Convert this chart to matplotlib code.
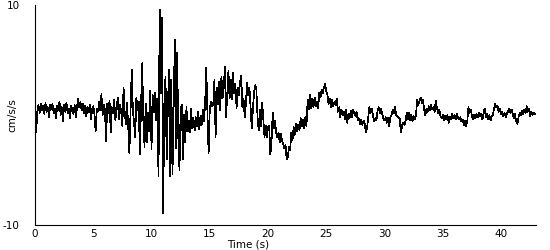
import numpy as np
import matplotlib
matplotlib.use("Agg")
import matplotlib.pyplot as plt

plt.rcParams['font.family'] = 'DejaVu Sans'
plt.rcParams['axes.unicode_minus'] = False

# sample interval (s)
dt = 0.1

# acceleration (cm/s/s), one row per second
accel = [
    0.2, -1.6, 0.3, 0.9, 0.2, 1.0, 0.4, 0.8, 0.1, 1.1,
    0.3, 0.7, -0.2, 0.9, 0.5, 1.0, 0.2, 0.6, -0.3, 0.8,
    0.4, 1.2, 0.0, 0.7, -0.6, 0.9, 0.3, 1.1, 0.2, 0.6,
    -0.3, 0.8, 0.5, 0.1, 0.9, -0.2, 0.6, 1.5, 0.7, 1.2,
    0.4, 1.0, 0.2, 0.8, -0.1, 0.7, 0.3, 0.9, -0.4, 0.5,
    0.8, 0.1, -1.5, 0.6, 0.3, 1.2, 0.4, 1.9, 0.0, 0.9,
    0.5, -2.4, 1.0, 0.2, 1.3, -1.6, 0.7, 0.2, 1.4, -0.5,
    0.6, 1.6, -0.4, 0.9, 0.3, -1.0, 2.5, 0.2, -0.8, 1.1,
    -1.0, -3.5, 0.2, 4.1, 0.5, -0.8, -2.0, 1.6, 0.4, 1.2,
    -3.6, 0.8, 4.7, -0.5, -2.9, 1.0, -2.5, 0.2, -1.5, 2.2,
    -3.1, 1.8, 0.3, 2.0, -0.5, 1.5, -5.6, 9.6, 2.0, 8.8,
    -8.9, 1.0, 3.5, -4.0, 0.5, 4.1, -5.6, 3.2, -5.4, 1.0,
    6.8, -3.0, 5.7, -2.0, -5.0, 0.5, 0.9, -4.0, 0.0, -2.5,
    0.7, -1.5, -0.5, -1.6, 0.6, -1.2, -0.3, -1.4, -0.2, -1.0,
    0.3, -1.3, -0.1, -0.9, 0.5, -0.6, 1.0, 4.3, 0.2, -3.5,
    0.5, 1.2, 0.8, 1.0, 3.2, -2.0, 2.5, 1.0, 3.0, 0.4,
    3.5, 1.5, 2.5, 4.4, -0.2, 2.0, 4.0, 1.5, 3.2, 1.4,
    3.8, 2.0, 2.8, 0.6, 2.5, 1.8, 3.0, 3.6, 0.7, 1.5,
    -0.2, 1.0, 2.9, 1.8, 2.5, 0.8, -1.2, 0.5, 2.0, 2.7,
    2.3, -0.2, -1.4, 0.5, -1.0, 1.1, -0.5, -2.0, -1.0, -2.0,
    -1.1, -1.0, -3.6, -2.5, 0.2, -1.2, -0.5, -1.6, -2.0, -1.6,
    -2.5, -1.7, -2.3, -2.6, -3.0, -2.7, -4.0, -3.8, -2.9, -3.2,
    -1.6, -2.3, -1.1, -1.8, -0.8, -1.5, -0.9, -1.4, -0.3, -1.0,
    -0.4, -1.2, -0.2, -1.0, 1.4, 0.5, 1.8, 0.6, 1.5, 0.7,
    1.6, 0.8, 1.2, 0.6, 2.0, 1.6, 2.3, 2.0, 2.5, 2.8,
    2.2, 1.8, 1.0, 1.5, 0.7, 1.4, 0.8, 1.2, 0.9, 1.5,
    0.3, 0.7, -0.2, 0.5, 0.0, 0.3, -0.4, 0.5, -0.7, 0.1,
    -0.3, 0.4, -0.2, 0.5, 0.2, -0.1, 0.3, -0.5, -0.3, -0.8,
    -0.4, -0.9, -0.5, -0.8, -1.6, -1.2, -0.2, 0.7, 0.2, 0.6,
    0.0, -0.6, -0.3, -0.5, 0.4, 0.7, 0.2, 0.6, 0.1, -0.3,
    -0.5, -0.2, -0.7, -0.3, -1.0, -0.2, 0.0, 0.5, 0.2, 0.7,
    0.0, -0.1, -0.2, -0.3, -1.6, -1.0, -0.7, -0.9, -0.6, 0.2,
    -0.4, 0.2, -0.5, 0.0, -0.6, -0.1, -0.4, 0.0, 1.4, 0.9,
    1.3, 1.6, 1.1, 1.4, 0.5, 0.0, 0.6, 0.3, 0.8, 0.4,
    0.9, 0.5, 0.7, 0.3, 1.3, 0.6, 0.2, 0.5, -0.1, -0.3,
    0.0, -0.5, -0.1, -0.4, 0.0, -0.7, -0.2, -0.4, 0.1, -0.3,
    0.0, -0.4, 0.1, -0.2, -0.4, -0.2, -0.6, -0.4, -0.9, -0.5,
    -1.0, -0.6, 0.7, 0.2, 0.5, -0.1, -0.4, 0.0, -0.3, 0.1,
    -0.2, 0.2, -0.1, 0.1, -0.4, 0.2, 0.6, -0.2, 0.1, -0.4,
    0.0, -0.5, -0.1, 0.0, 0.6, 1.0, 0.7, 0.8, 0.3, 0.6,
    0.1, 0.3, -0.1, 0.2, -0.2, 0.1, 0.3, 0.6, 0.2, 0.5,
    0.1, -0.3, 0.1, -0.6, -0.8, -0.2, 0.2, 0.0, 0.4, 0.1,
    0.5, 0.2, 0.8, 0.3, 0.6, -0.1, 0.3, 0.0, 0.2, 0.1,
]

xticks = [0, 5, 10, 15, 20, 25, 30, 35, 40]
yticks = [-10, 10]

t = np.arange(len(accel)) * dt

fig = plt.figure(figsize=(5.5, 2.5), dpi=100)
ax = fig.add_axes([35 / 550, 25 / 250, 501 / 550, 220 / 250])
ax.plot(t, accel, color='black', linewidth=0.5, antialiased=False)

ax.set_xlim(0, 43)
ax.set_ylim(-10, 10)
ax.set_xticks(xticks)
ax.set_yticks(yticks)
ax.set_xticklabels([str(v) for v in xticks])
ax.set_yticklabels([str(v) for v in yticks])
ax.tick_params(axis='x', length=0, pad=3, labelsize=7.5)
ax.tick_params(axis='y', length=0, pad=11, labelsize=7.5)
# little stubs at the corner
ax.set_xticks([0], minor=True)
ax.set_yticks([-10], minor=True)
ax.tick_params(which='minor', length=4, width=0.8, color='black')

for s in ['top', 'right']:
    ax.spines[s].set_visible(False)
for s in ['left', 'bottom']:
    ax.spines[s].set_linewidth(0.8)

ax.set_xlabel('Time (s)', fontsize=7.5)
ax.xaxis.set_label_coords(0.425, -0.065)
ax.set_ylabel('cm/s/s', fontsize=7.5)
ax.yaxis.set_label_coords(-0.035, 0.5)

fig.savefig('out.png', dpi=100)
